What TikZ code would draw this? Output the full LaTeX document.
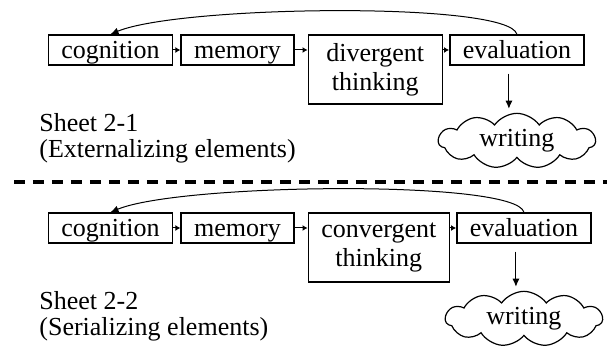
\documentclass[tikz,border=0pt]{standalone}
\usepackage{fontspec}
\setmainfont{Liberation Serif}
\usetikzlibrary{positioning,shapes.symbols,arrows.meta}
\tikzstyle{block} = [rectangle, draw, line width=0.75pt, inner xsep=6.5pt, inner ysep=0pt, minimum height=15pt, text height=12pt, text depth=3pt, font=\fontsize{13}{14}\selectfont]
\tikzstyle{thinkblock} = [rectangle, draw, line width=0.75pt, inner xsep=6.5pt, inner ysep=0pt, align=center, minimum width=67pt, minimum height=34.5pt, font=\fontsize{13}{14.5}\selectfont, execute at begin node=\rule{0pt}{15.5pt}]
\tikzstyle{bubble} = [cloud, draw, line width=0.6pt, cloud puffs=11, cloud puff arc=110, cloud ignores aspect, minimum width=78.5pt, minimum height=27.5pt, inner sep=0pt, font=\fontsize{13}{14}\selectfont]
\tikzstyle{sheet} = [align=left, inner sep=0pt, anchor=base west, font=\fontsize{13}{13}\selectfont]
\tikzstyle{line} = [draw, line width=0.5pt, -{Latex[length=4pt,width=3.5pt]}]
\tikzstyle{shortline} = [draw, line width=0.5pt, -{Latex[length=2.5pt,width=3pt]}]
\tikzstyle{divider} = [draw, line width=1.75pt, dash pattern=on 5.5pt off 4pt]

\begin{document}
\begin{tikzpicture}
	\useasboundingbox (0,0) rectangle (303.5pt,173.5pt);
	% Sheet 2-1
	\node[block] (cogA) at (55.25pt,148.5pt) {cognition};
	\node[block, right=3.5pt of cogA] (memA) {memory};
	\node[thinkblock, right=6.5pt of memA.north east, anchor=north west] (thA) {divergent\\thinking};
	\node[block, right=3pt of thA.north east, anchor=north west] (evA) {evaluation};
	\node[bubble, below=23.5pt of evA] (wrA) {writing};
	\node[sheet] (shA) at (19.5pt,94.5pt) {Sheet 2-1\\(Externalizing elements)};
	
	\path[shortline] (cogA) -- (memA);
	\path[shortline] (memA.east) -- (memA.east -| thA.west);
	\path[shortline] (evA.west -| thA.east) -- (evA.west);
	\path[line] (evA.north) .. controls +(-4pt,16.5pt) and +(34.75pt,14.5pt) .. (cogA.north);
	\path[line, shorten >=2pt] ([xshift=-4pt, yshift=-4pt]evA.south) -- ([xshift=-4pt]evA.south |- wrA.north);
	
	% divider
	\coordinate (divL) at (7pt,82.5pt);
	\coordinate (divR) at (303.5pt,82.5pt);
	\path[divider] (divL) -- (divR);
	
	% Sheet 2-2
	\node[block] (cogB) at (55.25pt,59.5pt) {cognition};
	\node[block, right=3.5pt of cogB] (memB) {memory};
	\node[thinkblock, right=6.5pt of memB.north east, anchor=north west] (thB) {convergent\\thinking};
	\node[block, right=3pt of thB.north east, anchor=north west] (evB) {evaluation};
	\node[bubble, below=23.5pt of evB] (wrB) {writing};
	\node[sheet] (shB) at (19.5pt,5.5pt) {Sheet 2-2\\(Serializing elements)};
	
	\path[shortline] (cogB) -- (memB);
	\path[shortline] (memB.east) -- (memB.east -| thB.west);
	\path[shortline] (evB.west -| thB.east) -- (evB.west);
	\path[line] (evB.north) .. controls +(-4pt,16.5pt) and +(34.75pt,14.5pt) .. (cogB.north);
	\path[line, shorten >=2pt] ([xshift=-4pt, yshift=-4pt]evB.south) -- ([xshift=-4pt]evB.south |- wrB.north);
\end{tikzpicture}
\end{document}
